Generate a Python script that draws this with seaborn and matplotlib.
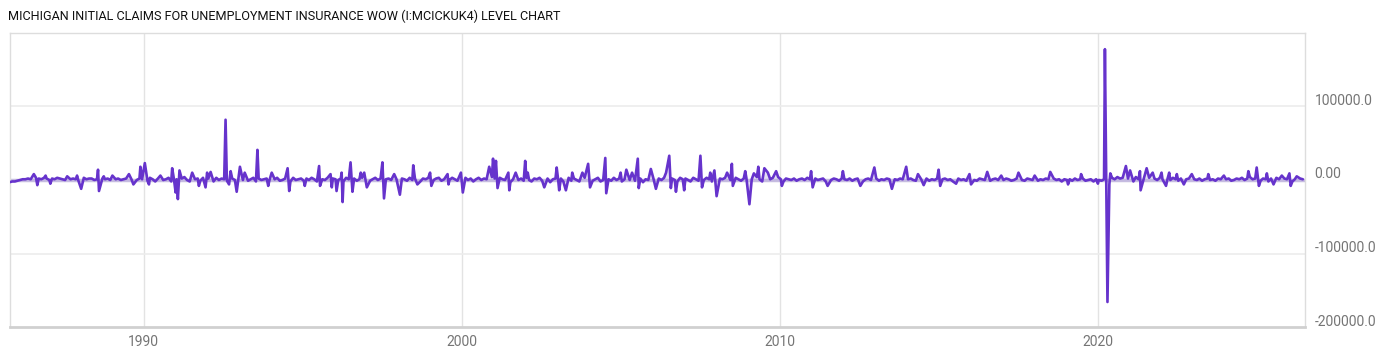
import numpy as np
import pandas as pd
import matplotlib
matplotlib.use("Agg")
import matplotlib.pyplot as plt
import matplotlib.transforms as mtransforms
import seaborn as sns

# ---------------- data (values in thousands of claims, week-over-week) ----------------
# monthly background readings, Oct 1985 .. Dec 1989
noise_1985_1989 = [-3, -2, -2,
                   -1, 0, 1, 1, 2, 1, 2, 3, 2, 1, 3, 2,
                   0, 2, 1, 3, 2, 1, 0, 2, 1, 2, 1, -1,
                   2, 3, 1, 2, 2, 0, 1, 3, 2, 1, 2, 0,
                   3, 1, 2, 0, 1, 2, 3, 1, 2, 0, 2, 1]
noise_1990s = [2, -1, 3, 1, -2, 2, 4, 0, 1, 3, -2, 2,
               1, -3, 2, 4, 0, -2, 3, 1, 2, -1, 3, 0,
               2, 1, -2, 3, 0, 2, 1, -1, 3, 2, 0, -2,
               3, 0, 2, -1, 1, 3, -2, 2, 0, 1, 2, -1,
               2, 1, 3, -1, 0, 2, 1, -2, 3, 0, 1, 2,
               -1, 2, 0, 3, 1, -2, 2, 1, 0, 3, -1, 2,
               1, 0, 2, -2, 3, 1, 0, 2, -1, 1, 3, 0,
               2, -1, 1, 3, 0, 2, -2, 1, 2, 0, 3, 1,
               0, 2, 1, -1, 3, 0, 2, 1, -2, 2, 1, 3,
               1, 0, 2, 3, -1, 1, 2, 0, 3, 1, -1, 2]
noise_2000s = [1, 3, 0, 2, -2, 1, 3, 0, 2, 1, -1, 4,
               2, -2, 3, 1, 0, 2, -3, 1, 3, 0, 2, -1,
               3, 0, -2, 2, 1, 3, -1, 0, 2, -3, 1, 2,
               0, 2, -2, 1, 3, -1, 2, 0, -2, 1, 3, 0,
               2, -1, 1, 3, -2, 0, 2, 1, -1, 3, 0, 2,
               -2, 1, 3, 0, 2, -1, 1, 2, -3, 1, 0, 3,
               1, -2, 2, 0, 3, 1, -1, 2, 0, -2, 3, 1,
               2, 0, -2, 3, 1, -1, 2, 0, 3, 1, -2, 2,
               -1, 2, 1, 3, -2, 0, 2, 3, 1, -1, 2, 3,
               -3, 1, 2, 4, 1, -2, 3, 2, 1, 3, 2, 4]
noise_2010s = [1, -2, 2, 1, 0, 2, -1, 1, 2, 0, 3, 1,
               -1, 2, 0, 1, 2, -2, 1, 0, 2, 1, -1, 2,
               1, 0, 2, -1, 1, 2, 0, -2, 1, 2, 0, 1,
               2, -1, 1, 0, 2, 1, -2, 1, 0, 2, 1, -1,
               1, 2, 0, -1, 2, 1, 0, 2, -1, 1, 0, 2,
               -1, 1, 2, 0, 1, -2, 1, 2, 0, 1, -1, 2,
               1, 0, -1, 2, 1, 0, 2, -1, 1, 2, 0, 1,
               0, 2, 1, -1, 0, 2, 1, 0, -1, 2, 1, 0,
               2, -1, 1, 0, 2, 1, -1, 2, 0, 1, -2, 1,
               0, 1, -1, 2, 0, 1, 2, -1, 0, 1, -2, 1]
noise_2020s = [0, -1, 1, 0, -6, 3, 1, 4, 2, 3, 5, 2,
               3, -2, 4, 1, 3, 2, -1, 3, 1, 2, 0, 3,
               1, -2, 2, 0, 3, 1, -1, 2, 0, 1, 2, -1,
               1, 0, 2, -1, 1, 2, 0, 1, -1, 2, 1, 0,
               1, 2, -1, 0, 2, 1, 3, 0, 2, 4, 1, 2,
               3, -1, 2, 1, -2, 2, 0, 3, 1, -1, 2, 1,
               2, -2, 1, 0, 2, 1]
noise_starts = ["1985-10-15", "1990-01-15", "2000-01-15", "2010-01-15", "2020-01-15"]

# individual weekly spikes (decimal year, thousands)
spike_years = [1986.55, 1986.66, 1986.92, 1987.07, 1987.60, 1987.91, 1988.04, 1988.57, 1988.60,
               1988.75, 1989.02, 1989.54, 1989.68, 1989.90, 1990.04, 1990.17, 1990.53, 1990.90,
               1991.01, 1991.08, 1991.13, 1991.53, 1991.74, 1991.95, 1992.00, 1992.11, 1992.58,
               1992.69, 1992.74, 1992.93, 1993.03, 1993.18, 1993.58, 1993.92, 1994.03, 1994.53,
               1994.58, 1995.07, 1995.52, 1995.55, 1995.88, 1995.92, 1996.07, 1996.23, 1996.26,
               1996.51, 1996.57, 1996.83, 1996.94, 1997.02, 1997.51, 1997.56, 1997.88, 1998.06,
               1998.48, 1998.61, 1999.01, 1999.05, 1999.56, 1999.59,
               1999.98, 2000.04, 2000.87, 2000.99, 2001.08, 2001.13, 2001.47, 2001.50, 2001.70,
               2002.00, 2002.08, 2002.60, 2002.99, 2003.07, 2003.28, 2003.48, 2003.80, 2003.98,
               2004.04, 2004.52, 2004.55, 2005.00, 2005.18, 2005.36, 2005.54, 2005.57, 2005.95,
               2006.11, 2006.43, 2006.53, 2006.58, 2006.74, 2007.00, 2007.51, 2007.56, 2007.82,
               2007.95, 2008.02, 2008.35, 2008.50, 2008.53, 2008.92, 2009.00, 2009.05, 2009.19,
               2009.33, 2009.52, 2009.63, 2009.89,
               2010.07, 2010.99, 2011.04, 2011.51, 2011.99, 2012.54, 2012.98, 2013.53, 2013.98,
               2014.35, 2014.53, 2015.00, 2015.05, 2015.55, 2015.97, 2016.02, 2016.53, 2016.97,
               2017.51, 2018.02, 2018.51, 2019.07, 2019.48, 2020.01,
               2020.23, 2020.31, 2020.40, 2020.89, 2021.02, 2021.33, 2021.35, 2021.54, 2021.73,
               2022.01, 2022.15, 2022.25, 2022.49, 2022.71, 2022.96, 2023.48, 2023.97, 2024.74,
               2025.00, 2025.07, 2025.32, 2025.53, 2025.79, 2026.03, 2026.07, 2026.26]
spike_values = [8, -7, 6, -5, 5, 6, -12, 14, -15,
                5, 6, 8, -6, 18, 23, -6, 6, 16,
                -17, -26, 13, 10, -8, -10, 10, 11, 82,
                -6, 12, -16, 18, 10, 41, -8, 10, 16,
                -15, -8, 19, -8, 8, -10, -15, 10, -30,
                24, -16, 10, 10, -10, 24, -25, 8, -20,
                20, -6, 10, -8, 8, -6,
                10, -17, 18, 29, 26, -11, 10, -14, 10,
                26, 10, -10, 17, -14, -14, 10, 10, 22,
                -10, 30, -18, 10, 14, 10, 29, -11, 15,
                -12, 10, 33, -11, -16, -14, 33, -10, 10,
                13, -22, 10, 22, -8, 12, -15, -33, 9,
                18, 16, 10, 12,
                -8, 12, -10, -8, 12, -8, 17, -12, 18,
                8, -7, 14, -8, -5, 8, -6, 11, 6,
                10, 6, 11, -6, 8, -5,
                178, -166, 9, 19, 13, 12, -14, 16, 10,
                10, -8, 10, 8, -6, 8, 8, 6, 12,
                17, -8, 9, -6, 6, 9, -8, 5]

y_ticks = [100000, 0, -100000, -200000]
y_tick_labels = ["100000.0", "0.00", "-100000.0", "-200000.0"]
x_tick_years = [1990, 2000, 2010, 2020]
title = "MICHIGAN INITIAL CLAIMS FOR UNEMPLOYMENT INSURANCE WOW (I:MCICKUK4) LEVEL CHART"


# ---------------- assemble ----------------
def decimal_to_date(y):
    yr = int(np.floor(y))
    start = pd.Timestamp(year=yr, month=1, day=1)
    return start + pd.Timedelta(days=(y - yr) * 365.25)


base_frames = []
for start, vals in zip(noise_starts,
                       [noise_1985_1989, noise_1990s, noise_2000s, noise_2010s, noise_2020s]):
    d = pd.date_range(pd.Timestamp(start) - pd.Timedelta(days=14), periods=len(vals), freq="MS") + pd.Timedelta(days=14)
    base_frames.append(pd.DataFrame({"date": d, "value": np.array(vals) * 1000.0}))
base = pd.concat(base_frames, ignore_index=True)

spikes = pd.DataFrame({"date": [decimal_to_date(y) for y in spike_years],
                       "value": np.array(spike_values) * 1000.0})
# drop background readings that fall in the same weeks as a spike
keep = []
sd = spikes["date"].values
for d in base["date"].values:
    keep.append(np.min(np.abs(sd - d)) > np.timedelta64(10, "D"))
base = base[np.array(keep)]
df = pd.concat([base, spikes], ignore_index=True).sort_values("date").reset_index(drop=True)

# ---------------- plot ----------------
sns.set_theme(style="white")
plt.rcParams["font.family"] = ["Roboto", "DejaVu Sans"]

W, H = 1400, 357
fig = plt.figure(figsize=(W / 100, H / 100), dpi=100)
ax = fig.add_axes([10 / W, 1 - 327 / H, (1305 - 10) / W, (327 - 33) / H])

line_color = "#6633cc"
ax.axhline(0, color="#c6bce0", lw=2.5, zorder=1)
ax.fill_between(df["date"], df["value"], 0, color="#b7a6e0", alpha=0.35, lw=0, zorder=2)
sns.lineplot(data=df, x="date", y="value", ax=ax, color=line_color, lw=1.9,
             estimator=None, sort=True, zorder=3)

ax.set_xlim(decimal_to_date(1985.80), decimal_to_date(2026.52))
ax.set_ylim(-200000, 200000)

# grid
for yr in x_tick_years:
    ax.axvline(pd.Timestamp(year=yr, month=1, day=1), color="#e3e3e3", lw=1, zorder=0)
for yv in [100000, -100000]:
    ax.axhline(yv, color="#ececec", lw=1.2, zorder=0)

ax.set_xticks([pd.Timestamp(year=yr, month=1, day=1) for yr in x_tick_years])
ax.set_xticklabels([str(y) for y in x_tick_years])
ax.yaxis.tick_right()
ax.set_yticks(y_ticks)
ax.set_yticklabels(y_tick_labels)
ax.tick_params(axis="both", length=0, labelsize=10, labelcolor="#757575")
ax.tick_params(axis="x", pad=6)
ax.tick_params(axis="y", pad=7)
off = mtransforms.ScaledTranslation(0, 7 / 100, fig.dpi_scale_trans)
for lab in ax.get_yticklabels():
    lab.set_transform(lab.get_transform() + off)
ax.set_xlabel("")
ax.set_ylabel("")

for side in ["top", "right", "left"]:
    ax.spines[side].set_color("#dddddd")
    ax.spines[side].set_linewidth(1.0)
ax.spines["bottom"].set_color("#d0d0d0")
ax.spines["bottom"].set_linewidth(2.0)

fig.text(8 / W, 1 - 16 / H, title, fontsize=9.1, color="#111111", ha="left", va="center",
         family=["Roboto", "DejaVu Sans"])

fig.savefig("out.png", dpi=100, facecolor="white")
